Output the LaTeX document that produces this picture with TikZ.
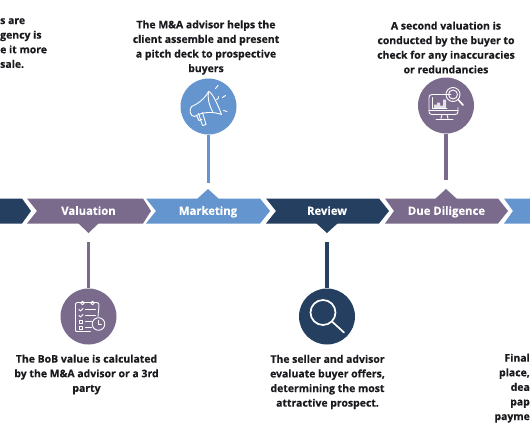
\documentclass[tikz,border=0pt]{standalone}
\usepackage{fontspec}
\setmainfont[BoldFeatures={FakeBold=0.25}]{Open Sans}
\definecolor{navy}{HTML}{243F5F}
\definecolor{plum}{HTML}{7A6A8C}
\definecolor{sky}{HTML}{6595CE}
\definecolor{ink}{HTML}{1A1A1F}
\tikzset{
  desc/.style={font=\fontsize{10.45}{14.6}\selectfont\bfseries, text=ink, align=center, inner sep=0pt},
  steplabel/.style={font=\fontsize{11.3}{13}\selectfont\bfseries, text=white, inner sep=0pt, anchor=base},
  badge/.style={circle, minimum size=56pt, inner sep=0pt},
  stem/.style={line width=3.4pt},
  ico/.style={draw=white, line width=0.9pt, line cap=round, line join=round, fill=none}
}
\newcommand{\chev}[5]{% left notch shoulder tip colour
  \fill[#5] (#1,198.5) -- (#3,198.5) -- (#4,211) -- (#3,223.5) -- (#1,223.5) -- (#2,211) -- cycle;}
\begin{document}
\begin{tikzpicture}[x=1pt,y=-1pt]
\useasboundingbox (0,0) rectangle (530,442);
\clip (0,0) rectangle (530,442);
\fill[white] (0,0) rectangle (530,442);

% chevrons
\fill[navy] (-5,198.5) -- (22,198.5) -- (31,211) -- (22,223.5) -- (-5,223.5) -- cycle;
\chev{27}{37}{143}{151}{plum}
\chev{146}{156}{260}{270}{sky}
\chev{266}{276}{379}{389}{navy}
\chev{385}{394}{498}{508}{plum}
\fill[sky] (504,198.5) -- (535,198.5) -- (535,223.5) -- (504,223.5) -- (513,211) -- cycle;

% pointers
\fill[plum] (78,223) -- (99,223) -- (88.5,233) -- cycle;
\fill[sky] (197,199) -- (219,199) -- (208,189) -- cycle;
\fill[navy] (316,223) -- (338,223) -- (327,233) -- cycle;
\fill[plum] (435,199) -- (457,199) -- (446,189) -- cycle;

% labels
\node[steplabel] (lval) at (88.5,214.8) {Valuation};
\node[steplabel] (lmkt) at (208,214.8) {Marketing};
\node[steplabel] (lrev) at (327,214.8) {Review};
\node[steplabel] (ldd) at (446.5,214.8) {Due Diligence};

% badges
\node[badge, fill=sky] (bmkt) at (208.5,106.5) {};
\node[badge, fill=plum] (bdd) at (446,105.5) {};
\node[badge, fill=plum] (bval) at (88.5,316.5) {};
\node[badge, fill=navy] (brev) at (327,316.5) {};

% stems
\coordinate (emkt) at (208.5,183);
\coordinate (edd) at (446,180);
\coordinate (eval) at (88.5,242);
\coordinate (erev) at (327,242);
\draw[stem, sky] (bmkt.south) -- (emkt);
\draw[stem, plum] (bdd.south) -- (edd);
\draw[stem, plum] (bval.north) -- (eval);
\draw[stem, navy] (brev.north) -- (erev);

% megaphone icon
\begin{scope}[shift={(bmkt.center)}]
  \draw[ico] (0,-15) .. controls (3,-15) and (9,-3) .. (13,8) .. controls (5,5) and (-6,5) .. (-14,10)
     .. controls (-18,10) and (-20,4) .. (-17,0) .. controls (-12,-2) and (-4,-7) .. (0,-15);
  \draw[ico] (0,-15) .. controls (-1,-9) and (0,-3) .. (4,5);
  \draw[ico] (-10,7) -- (-6,19) -- (-2.5,18) -- (-6,6);
  \draw[ico] (-12,9) -- (-9.5,14) -- (-6.5,13);
  \draw[ico] (8,-7) arc (90:-30:2);
  \draw[ico] (7,-18) -- (9.5,-21);
  \draw[ico] (14,-9) -- (17,-11);
  \draw[ico] (15,4) -- (18.5,5);
\end{scope}

% monitor with magnifier icon
\begin{scope}[shift={(bdd.center)}]
  \draw[ico] (5,-11) -- (-14,-11) .. controls (-16,-11) and (-17,-10) .. (-17,-8) -- (-17,6) .. controls (-17,8) and (-16,9) .. (-14,9) -- (9,9) .. controls (11,9) and (12,8) .. (12,6) -- (12,2);
  \draw[ico] (-17,5) -- (12,5);
  \draw[ico] (-4,9) -- (-5,13) (1,9) -- (2,13);
  \draw[ico] (-10,13.5) -- (7,13.5);
  \draw[ico] (-14,-8) -- (-14,3) -- (1,3);
  \fill[white,opacity=.8] (-12,3) -- (-12,-1) -- (-9,-1) -- (-9,-3) -- (-6,-3) -- (-6,0) -- (-3,0) -- (-3,-6) -- (0,-6) -- (0,3) -- cycle;
  \draw[ico] (7,-11) circle (7);
  \draw[ico] (7,-11) circle (4.5);
  \draw[ico, line width=1.6pt] (12.5,-5.5) -- (17,-0.5);
\end{scope}

% checklist icon
\begin{scope}[shift={(bval.center)}]
  \draw[ico] (9.5,0) -- (10.5,-11) .. controls (10.5,-13) and (10,-14) .. (8,-14) -- (-11,-14) .. controls (-13,-14) and (-13,-13) .. (-13,-11) -- (-13,13) .. controls (-13,15) and (-13,15) .. (-11,15) -- (2,15);
  \draw[ico] (-6,-13.5) circle (1.8) (4,-13.5) circle (1.8);
  \draw[ico] (-9.5,-7) -- (-8,-5.5) -- (-5.5,-8);
  \draw[ico] (-9.5,-1) -- (-8,0.5) -- (-5.5,-2);
  \draw[ico] (-9.5,3.5) rectangle (-6.5,6.5);
  \draw[ico] (-9.5,9.5) rectangle (-6.5,12.5);
  \draw[ico] (-3,-7) -- (7,-7) (-3,-1) -- (7,-1) (-3,5) -- (3,5) (-3,11) -- (3,11);
  \draw[ico] (10,7.5) circle (6.3);
  \draw[ico] (10,4) -- (10,8) -- (13,8);
\end{scope}

% magnifier icon
\begin{scope}[shift={(brev.center)}]
  \draw[ico, line width=1.7pt] (-4,-4) circle (12.5);
  \draw[ico, line width=1.7pt] (5.5,5.5) -- (17,16);
\end{scope}

% descriptions
\node[desc, align=left, anchor=north west] (tdeal) at (0,18) {s are\\gency is\\e it more\\sale.};
\node[desc] (tmkt) at (206,47.5) {The M\&A advisor helps the\\client assemble and present\\a pitch deck to prospective\\buyers};
\node[desc] (tdd) at (446,47.5) {A second valuation is\\conducted by the buyer to\\check for any inaccuracies\\or redundancies};
\node[desc] (tval) at (86.5,374.5) {The BoB value is calculated\\by the M\&A advisor or a 3rd\\party};
\node[desc] (trev) at (327.5,382) {The seller and advisor\\evaluate buyer offers,\\determining the most\\attractive prospect.};
\node[desc, align=right, anchor=north east] (tfin) at (530,353.5) {Final\\place,\\dea\\pap\\payme};
\end{tikzpicture}
\end{document}
